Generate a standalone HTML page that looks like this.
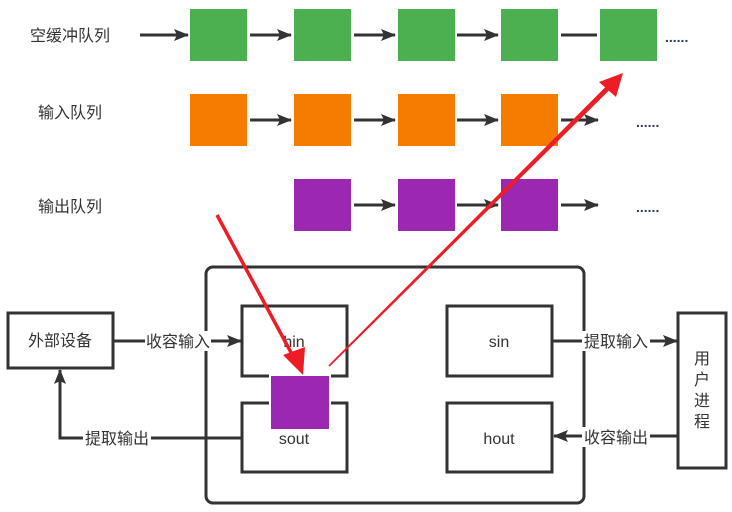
<!DOCTYPE html>
<html><head><meta charset="utf-8"><style>
html,body{margin:0;padding:0;background:#fff;}
svg{display:block;}
text{font-family:"Liberation Sans","Noto Sans CJK SC",sans-serif;font-size:16px;fill:#333;}
</style></head><body>
<svg width="732" height="512" viewBox="0 0 732 512">
<defs>
<marker id="ar" markerWidth="15" markerHeight="12" refX="14" refY="6" orient="auto" markerUnits="userSpaceOnUse" viewBox="0 0 15 12">
<path d="M0,0 L15,6 L0,12 L3,6 Z" fill="#333"/></marker>
</defs>
<g stroke="#333" stroke-width="3" fill="none">
<line x1="140" y1="35" x2="188" y2="35" marker-end="url(#ar)"/>
<line x1="250" y1="35" x2="291" y2="35" marker-end="url(#ar)"/>
<line x1="354" y1="35" x2="395" y2="35" marker-end="url(#ar)"/>
<line x1="457" y1="35" x2="498" y2="35" marker-end="url(#ar)"/>
<line x1="561" y1="35" x2="597" y2="35"/>
<line x1="250" y1="120" x2="291" y2="120" marker-end="url(#ar)"/>
<line x1="354" y1="120" x2="395" y2="120" marker-end="url(#ar)"/>
<line x1="457" y1="120" x2="498" y2="120" marker-end="url(#ar)"/>
<line x1="561" y1="120" x2="598" y2="120" marker-end="url(#ar)"/>
<line x1="354" y1="205" x2="395" y2="205" marker-end="url(#ar)"/>
<line x1="457" y1="205" x2="498" y2="205" marker-end="url(#ar)"/>
<line x1="561" y1="205" x2="598" y2="205" marker-end="url(#ar)"/>
</g>
<g>
<rect x="190" y="9" width="57" height="52" fill="#4caf50"/>
<rect x="294" y="9" width="57" height="52" fill="#4caf50"/>
<rect x="398" y="9" width="57" height="52" fill="#4caf50"/>
<rect x="501" y="9" width="57" height="52" fill="#4caf50"/>
<rect x="600" y="9" width="57" height="52" fill="#4caf50"/>
<rect x="190" y="94" width="57" height="52" fill="#f57c00"/>
<rect x="294" y="94" width="57" height="52" fill="#f57c00"/>
<rect x="398" y="94" width="57" height="52" fill="#f57c00"/>
<rect x="501" y="94" width="57" height="52" fill="#f57c00"/>
<rect x="294" y="179" width="57" height="52" fill="#9c27b0"/>
<rect x="398" y="179" width="57" height="52" fill="#9c27b0"/>
<rect x="501" y="179" width="57" height="52" fill="#9c27b0"/>
</g>
<text x="70" y="41" text-anchor="middle">空缓冲队列</text>
<text x="70" y="118" text-anchor="middle">输入队列</text>
<text x="70" y="212" text-anchor="middle">输出队列</text>
<text x="665" y="42" style="font-size:14px;font-weight:bold;fill:#2a3a5a">......</text>
<text x="636" y="127" style="font-size:14px;font-weight:bold;fill:#2a3a5a">......</text>
<text x="636" y="212" style="font-size:14px;font-weight:bold;fill:#2a3a5a">......</text>

<rect x="206" y="267" width="378" height="236" rx="7" fill="none" stroke="#333" stroke-width="3"/>
<rect x="8" y="313" width="105" height="55" fill="#fff" stroke="#333" stroke-width="3"/>
<text x="60" y="346" text-anchor="middle">外部设备</text>
<rect x="242" y="306" width="105" height="70" fill="#fff" stroke="#333" stroke-width="3"/>
<text x="294" y="347" text-anchor="middle">hin</text>
<rect x="242" y="403" width="105" height="69" fill="#fff" stroke="#333" stroke-width="3"/>
<text x="294" y="444" text-anchor="middle">sout</text>
<rect x="447" y="306" width="105" height="70" fill="#fff" stroke="#333" stroke-width="3"/>
<text x="499" y="347" text-anchor="middle">sin</text>
<rect x="447" y="403" width="105" height="69" fill="#fff" stroke="#333" stroke-width="3"/>
<text x="499" y="444" text-anchor="middle">hout</text>
<rect x="678" y="313" width="48" height="155" fill="#fff" stroke="#333" stroke-width="3"/>
<text x="702" y="364" text-anchor="middle">用</text>
<text x="702" y="385" text-anchor="middle">户</text>
<text x="702" y="406" text-anchor="middle">进</text>
<text x="702" y="427" text-anchor="middle">程</text>

<g stroke="#333" stroke-width="3" fill="none">
<line x1="113" y1="341" x2="241" y2="341" marker-end="url(#ar)"/>
<polyline points="242,438 60,438 60,370" marker-end="url(#ar)"/>
<line x1="552" y1="341" x2="677" y2="341" marker-end="url(#ar)"/>
<line x1="678" y1="436" x2="554" y2="436" marker-end="url(#ar)"/>
</g>
<g>
<rect x="145" y="331" width="66" height="20" fill="#fff"/>
<text x="178" y="347" text-anchor="middle">收容输入</text>
<rect x="83" y="428" width="68" height="20" fill="#fff"/>
<text x="117" y="444" text-anchor="middle">提取输出</text>
<rect x="582" y="331" width="68" height="20" fill="#fff"/>
<text x="616" y="347" text-anchor="middle">提取输入</text>
<rect x="582" y="427" width="68" height="20" fill="#fff"/>
<text x="616" y="443" text-anchor="middle">收容输出</text>
</g>

<rect x="269" y="374" width="62" height="57" fill="#fff"/>
<rect x="271" y="376" width="58" height="53" fill="#9c27b0"/>

<line x1="217" y1="215" x2="294" y2="358" stroke="#ee1c25" stroke-width="3.5"/>
<polygon points="303,375 283,355 305,347" fill="#ee1c25"/>
<polygon points="328.4,365.4 608.2,84.2 611.8,87.8 329.6,366.6" fill="#ee1c25"/>
<polygon points="623,73 616,97 599,82" fill="#ee1c25"/>
</svg>
</body></html>
